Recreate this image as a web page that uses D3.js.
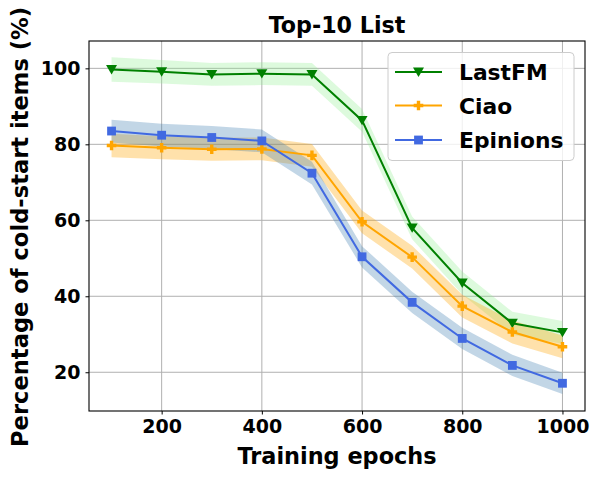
<!DOCTYPE html>
<html><head><meta charset="utf-8">
<script src="https://cdn.jsdelivr.net/npm/d3@7"></script>
<style>body{margin:0;background:#fff}svg{display:block}text{font-family:"DejaVu Sans",sans-serif;font-weight:bold}</style>
</head><body>
<svg id="c" width="599" height="478"></svg>
<script>
const epochs = [100,200,300,400,500,600,700,800,900,1000];
const lastfm = [99.7,99.1,98.4,98.6,98.4,86.3,58.0,43.5,32.9,30.5];
const ciao = [79.7,79.1,78.7,78.8,77.1,59.6,50.3,37.4,30.6,26.7];
const epinions = [83.5,82.4,81.8,80.9,72.4,50.4,38.4,28.9,21.8,17.1];
const lastfmErr = [3.2,3.1,3.0,3.0,3.0,3.0,3.0,3.0,3.0,3.0];
const ciaoErr = [3.1,3.0,3.0,3.0,3.0,3.0,3.0,3.0,3.0,3.0];
const epinionsErr = [3.0,3.0,3.0,3.0,3.0,2.8,2.8,2.8,2.8,2.8];
const xTicks = [200,400,600,800,1000];
const yTicks = [20,40,60,80,100];
const seriesNames = ["LastFM","Ciao","Epinions"];

const series = [
  {name:seriesNames[0], vals:lastfm, err:lastfmErr, color:"#008000", band:"#90ee90", bandOp:0.3, marker:"tri"},
  {name:seriesNames[1], vals:ciao, err:ciaoErr, color:"#FFA500", band:"#FFA500", bandOp:0.33, marker:"plus"},
  {name:seriesNames[2], vals:epinions, err:epinionsErr, color:"#4169E1", band:"#4682B4", bandOp:0.33, marker:"sq"}
];

const svg = d3.select("#c");
const L=89, R=585, T=41, B=411;
const x = d3.scaleLinear().domain([55,1045]).range([L,R]);
const y = d3.scaleLinear().domain([9.8,107.2]).range([B,T]);

// grid
const g = svg.append("g");
g.selectAll(".gx").data(xTicks).enter().append("line")
  .attr("x1",d=>x(d)).attr("x2",d=>x(d)).attr("y1",T).attr("y2",B)
  .attr("stroke","#b0b0b0").attr("stroke-width",1);
g.selectAll(".gy").data(yTicks).enter().append("line")
  .attr("y1",d=>y(d)).attr("y2",d=>y(d)).attr("x1",L).attr("x2",R)
  .attr("stroke","#b0b0b0").attr("stroke-width",1);

// bands
series.forEach(s=>{
  const area = d3.area().x((d,i)=>x(epochs[i])).y0((d,i)=>y(d-s.err[i])).y1((d,i)=>y(d+s.err[i]));
  svg.append("path").attr("d",area(s.vals)).attr("fill",s.band).attr("fill-opacity",s.bandOp).attr("stroke","none");
});

function drawMarker(sel, type, color, cx, cy){
  if(type==="tri"){
    const r=5.5;
    sel.append("path").attr("d",`M${cx-r},${cy-r*0.8}L${cx+r},${cy-r*0.8}L${cx},${cy+r*0.9}Z`).attr("fill",color);
  } else if(type==="sq"){
    const r=4.4;
    sel.append("rect").attr("x",cx-r).attr("y",cy-r).attr("width",2*r).attr("height",2*r).attr("fill",color);
  } else {
    const r=4.8, w=1.7;
    sel.append("path").attr("d",`M${cx-w},${cy-r}H${cx+w}V${cy-w}H${cx+r}V${cy+w}H${cx+w}V${cy+r}H${cx-w}V${cy+w}H${cx-r}V${cy-w}H${cx-w}Z`).attr("fill",color);
  }
}

// lines
series.forEach(s=>{
  const line = d3.line().x((d,i)=>x(epochs[i])).y(d=>y(d));
  svg.append("path").attr("d",line(s.vals)).attr("fill","none").attr("stroke",s.color).attr("stroke-width",2);
  const mg = svg.append("g");
  s.vals.forEach((v,i)=>drawMarker(mg,s.marker,s.color,x(epochs[i]),y(v)));
});

// axes
const xAxis = svg.append("g").attr("transform",`translate(0,${B})`)
  .call(d3.axisBottom(x).tickValues(xTicks).tickSize(3.5).tickPadding(5).tickFormat(d3.format("d")));
const yAxis = svg.append("g").attr("transform",`translate(${L},0)`)
  .call(d3.axisLeft(y).tickValues(yTicks).tickSize(3.5).tickPadding(5).tickFormat(d3.format("d")));
[xAxis,yAxis].forEach(a=>{
  a.select(".domain").remove();
  a.selectAll("text").attr("font-size","19px").attr("font-family","DejaVu Sans").attr("font-weight","bold").attr("fill","#000");
  a.selectAll("line").attr("stroke","#000");
});
svg.append("rect").attr("x",L).attr("y",T).attr("width",R-L).attr("height",B-T)
  .attr("fill","none").attr("stroke","#000").attr("stroke-width",1.1);

// titles
svg.append("text").attr("x",(L+R)/2).attr("y",33).attr("text-anchor","middle").attr("font-size","22.2px").text("Top-10 List");
svg.append("text").attr("x",(L+R)/2).attr("y",464).attr("text-anchor","middle").attr("font-size","22.4px").text("Training epochs");
svg.append("text").attr("transform",`translate(28,${(T+B)/2+1}) rotate(-90)`).attr("text-anchor","middle").attr("font-size","22.6px").text("Percentage of cold-start items (%)");

// legend
const lg = svg.append("g");
lg.append("rect").attr("x",388).attr("y",52.5).attr("width",186).attr("height",108).attr("rx",4)
  .attr("fill","#fff").attr("fill-opacity",0.8).attr("stroke","#cccccc").attr("stroke-width",1);
const ly = [72,105.5,140];
series.forEach((s,i)=>{
  lg.append("line").attr("x1",395).attr("x2",442).attr("y1",ly[i]).attr("y2",ly[i]).attr("stroke",s.color).attr("stroke-width",2);
  drawMarker(lg,s.marker,s.color,418.5,ly[i]);
  lg.append("text").attr("x",459).attr("y",ly[i]+8).attr("font-size","21.8px").text(s.name);
});
</script>
</body></html>
